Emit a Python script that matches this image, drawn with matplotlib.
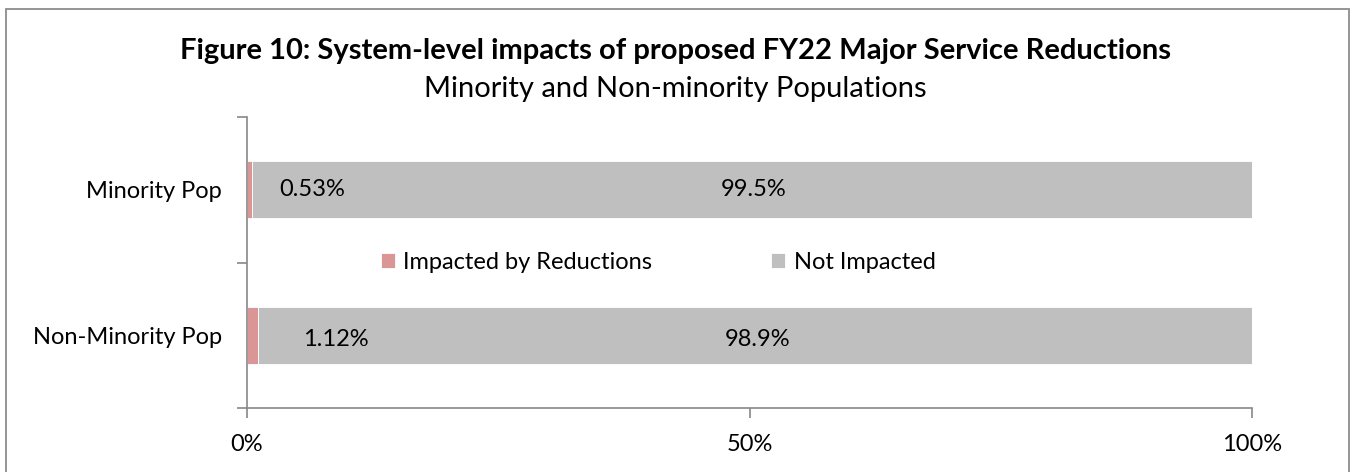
#!/usr/bin/env python3
"""Stacked horizontal bars: FY22 major service reductions by population."""

import matplotlib.pyplot as plt
from matplotlib.patches import Rectangle

CATEGORIES = ["Minority Pop", "Non-Minority Pop"]
IMPACTED = [0.53, 1.12]
NOT_IMPACTED = [99.47, 98.88]
IMPACTED_LABELS = ["0.53%", "1.12%"]
NOT_IMPACTED_LABELS = ["99.5%", "98.9%"]
X_TICKS = [0, 50, 100]
X_TICK_LABELS = ["0%", "50%", "100%"]

PINK = "#D99694"
GRAY = "#BFBFBF"
AXIS = "#888888"


def main() -> None:
    plt.rcParams.update({"font.family": ["Lato", "DejaVu Sans"], "font.size": 17})
    fig = plt.figure(figsize=(13.51, 4.72), dpi=100)
    ax = fig.add_axes([247 / 1351, 1 - 408 / 472, 1005 / 1351, 291 / 472])

    ypos = [1.5, 0.5]
    h = 0.39
    ax.barh(ypos, IMPACTED, height=h, color=PINK, edgecolor="white",
            linewidth=0.6, label="Impacted by Reductions")
    ax.barh(ypos, NOT_IMPACTED, left=IMPACTED, height=h, color=GRAY,
            edgecolor="white", linewidth=0.6, label="Not Impacted")

    # data labels, placed roughly where the original sits
    for y, lab, lab2, off in zip(ypos, IMPACTED_LABELS, NOT_IMPACTED_LABELS, [6.5, 8.8]):
        dy = 0.0 if y > 1 else -0.03
        ax.text(off, y + dy, lab, ha="center", va="center", fontsize=17)
        ax.text(50.4 if y > 1 else 50.8, y + dy, lab2, ha="center", va="center", fontsize=17)

    ax.set_xlim(0, 100)
    ax.set_ylim(0, 2)
    ax.set_xticks(X_TICKS, X_TICK_LABELS)
    ax.set_yticks([0, 1, 2], [])
    ax.set_yticks(ypos, CATEGORIES, minor=True)
    ax.tick_params(axis="y", which="minor", length=0, pad=18, labelsize=17)
    ax.tick_params(axis="y", which="major", length=7, color=AXIS, width=1.2)
    ax.tick_params(axis="x", length=7, color=AXIS, width=1.2, pad=12, labelsize=17)
    for side in ("top", "right"):
        ax.spines[side].set_visible(False)
    for side in ("left", "bottom"):
        ax.spines[side].set_color(AXIS)
        ax.spines[side].set_linewidth(1.2)

    ax.legend(loc="center", bbox_to_anchor=(0.409, 0.5), ncol=2,
              frameon=False, fontsize=17, handlelength=0.6,
              handleheight=0.6, handletextpad=0.35, columnspacing=5.05)

    fig.text(0.5, 1 - 51 / 472, "Figure 10: System-level impacts of proposed FY22 Major Service Reductions",
             ha="center", va="center", fontsize=21, fontweight="bold")
    fig.text(0.5, 1 - 89 / 472, "Minority and Non-minority Populations",
             ha="center", va="center", fontsize=21)

    fig.patches.append(Rectangle((6 / 1351, -0.01), 1343 / 1351, 1 - 9 / 472 + 0.01,
                                 transform=fig.transFigure, fill=False,
                                 edgecolor="#8c8c8c", linewidth=1.3))
    fig.savefig("out.png", dpi=100)


if __name__ == "__main__":
    main()
